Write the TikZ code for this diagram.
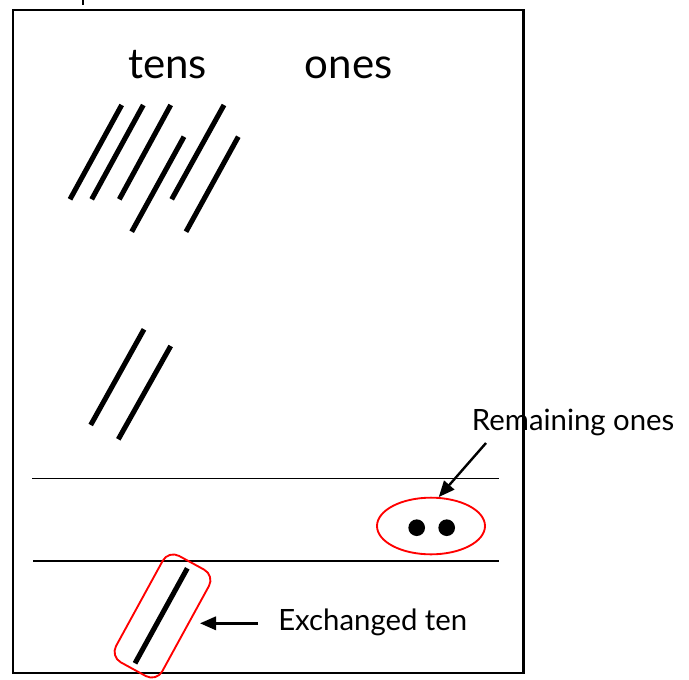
\documentclass[tikz,border=0pt]{standalone}
\usepackage{fontspec}
\setmainfont{Lato}
\usetikzlibrary{shapes.geometric,arrows.meta}
\begin{document}
\begin{tikzpicture}[x=0.75pt,y=-0.75pt,
  tally/.style={line width=3.8pt},
  frame/.style={line width=1.6pt},
  rule/.style={line width=1.2pt},
  ring/.style={draw=red, line width=1.4pt, inner sep=0pt},
  pointer/.style={line width=1.8pt, -{Triangle[length=12pt,width=10pt]}},
  heading/.style={font=\fontsize{31.5}{36}\selectfont, inner sep=0pt, anchor=base},
  note/.style={font=\fontsize{22}{26}\selectfont, inner sep=0pt, anchor=base west},
  dot/.style={circle, fill, inner sep=0pt, minimum size=12.5pt}]
\useasboundingbox (0,0) rectangle (689,679);

% stray mark above the frame
\draw[line width=1.5pt] (83,0) -- (83,5);

% outer frame
\draw[frame] (13,10) rectangle (523.5,673.3);

% column headings
\node[heading] (tens) at (167.5,78.3) {tens};
\node[heading] (ones) at (348.7,78.3) {ones};

% six tens, first group
\draw[tally] (121.7,105) -- (70,199.3);
\draw[tally] (143.3,105) -- (91.7,199.3);
\draw[tally] (170.7,105) -- (119.3,199.3);
\draw[tally] (184,136.7) -- (131.7,231.7);
\draw[tally] (224,105) -- (171.7,199.3);
\draw[tally] (238.3,136.7) -- (186,231.7);

% two more tens
\draw[tally] (144,329.3) -- (90.7,425);
\draw[tally] (170.7,346) -- (118.3,439.3);

% answer band
\draw[rule] (32,478.3) -- (498.5,478.3);
\draw[rule] (33,560.7) -- (499,560.7);

% remaining ones
\node[dot] (dotA) at (416.7,527.7) {};
\node[dot] (dotB) at (446.7,527.7) {};
\node[ring, ellipse, minimum width=81pt, minimum height=42.5pt] (ell) at (431,526) {};

\node[note] (rem) at (471.7,430) {Remaining ones};
\coordinate (remtail) at (486,443);
\draw[pointer] (remtail) -- (ell.75);

% exchanged ten
\draw[tally] (187.3,568.3) -- (135,663.3);
\node[ring, rectangle, rounded corners=9pt, rotate=61.3,
      minimum width=91pt, minimum height=39.5pt] (box) at (162.5,616) {};

\node[note] (ex) at (278,630) {Exchanged ten};
\coordinate (extail) at (258,623.3);
\coordinate (extip) at (200,623.3);
\draw[pointer] (extail) -- (extip);
\end{tikzpicture}
\end{document}
